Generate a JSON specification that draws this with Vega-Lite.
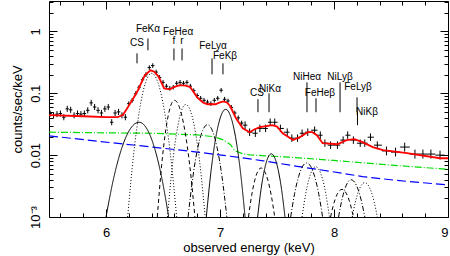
{
"$schema":"https://vega.github.io/schema/vega-lite/v6.json",
"autosize":"none","width":399,"height":216,
"padding":{"left":49,"top":1,"right":2,"bottom":39},
"background":"white",
"config":{"view":{"stroke":"black","strokeWidth":1},
"axis":{"domain":false,"grid":false,"tickColor":"black","tickWidth":1,"labelColor":"black","labelFont":"Liberation Sans","labelFontSize":13,"titleFont":"Liberation Sans","titleFontSize":13,"titleFontWeight":"normal","titleColor":"black"}},
"datasets":{
"pts":[
{"e":5.51,"e1":5.495,"e2":5.525,"c":0.047,"c1":0.042,"c2":0.0526},
{"e":5.54,"e1":5.525,"e2":5.555,"c":0.044,"c1":0.0393,"c2":0.0493},
{"e":5.57,"e1":5.555,"e2":5.585,"c":0.046,"c1":0.0411,"c2":0.0515},
{"e":5.60,"e1":5.585,"e2":5.615,"c":0.047,"c1":0.042,"c2":0.0526},
{"e":5.63,"e1":5.615,"e2":5.645,"c":0.041,"c1":0.0366,"c2":0.0459},
{"e":5.66,"e1":5.645,"e2":5.675,"c":0.056,"c1":0.05,"c2":0.0627},
{"e":5.69,"e1":5.675,"e2":5.705,"c":0.054,"c1":0.0482,"c2":0.0605},
{"e":5.72,"e1":5.705,"e2":5.735,"c":0.044,"c1":0.0393,"c2":0.0493},
{"e":5.75,"e1":5.735,"e2":5.765,"c":0.047,"c1":0.042,"c2":0.0526},
{"e":5.78,"e1":5.765,"e2":5.795,"c":0.046,"c1":0.0411,"c2":0.0515},
{"e":5.81,"e1":5.795,"e2":5.825,"c":0.047,"c1":0.042,"c2":0.0526},
{"e":5.84,"e1":5.825,"e2":5.855,"c":0.053,"c1":0.0473,"c2":0.0594},
{"e":5.87,"e1":5.855,"e2":5.885,"c":0.070,"c1":0.0625,"c2":0.0784},
{"e":5.90,"e1":5.885,"e2":5.915,"c":0.060,"c1":0.0536,"c2":0.0672},
{"e":5.93,"e1":5.915,"e2":5.945,"c":0.053,"c1":0.0473,"c2":0.0594},
{"e":5.96,"e1":5.945,"e2":5.975,"c":0.048,"c1":0.0429,"c2":0.0538},
{"e":5.99,"e1":5.975,"e2":6.005,"c":0.056,"c1":0.05,"c2":0.0627},
{"e":6.02,"e1":6.005,"e2":6.035,"c":0.060,"c1":0.0536,"c2":0.0672},
{"e":6.05,"e1":6.035,"e2":6.065,"c":0.034,"c1":0.0304,"c2":0.0381},
{"e":6.08,"e1":6.065,"e2":6.095,"c":0.048,"c1":0.0429,"c2":0.0538},
{"e":6.11,"e1":6.095,"e2":6.125,"c":0.050,"c1":0.0446,"c2":0.056},
{"e":6.14,"e1":6.125,"e2":6.155,"c":0.044,"c1":0.0393,"c2":0.0493},
{"e":6.17,"e1":6.155,"e2":6.185,"c":0.041,"c1":0.0366,"c2":0.0459},
{"e":6.20,"e1":6.185,"e2":6.215,"c":0.068,"c1":0.0624,"c2":0.0741},
{"e":6.23,"e1":6.215,"e2":6.245,"c":0.077,"c1":0.0706,"c2":0.0839},
{"e":6.26,"e1":6.245,"e2":6.275,"c":0.098,"c1":0.0899,"c2":0.107},
{"e":6.29,"e1":6.275,"e2":6.305,"c":0.125,"c1":0.115,"c2":0.136},
{"e":6.32,"e1":6.305,"e2":6.335,"c":0.165,"c1":0.151,"c2":0.18},
{"e":6.35,"e1":6.335,"e2":6.365,"c":0.20,"c1":0.183,"c2":0.218},
{"e":6.38,"e1":6.365,"e2":6.395,"c":0.26,"c1":0.238,"c2":0.283},
{"e":6.41,"e1":6.395,"e2":6.425,"c":0.28,"c1":0.257,"c2":0.305},
{"e":6.44,"e1":6.425,"e2":6.455,"c":0.22,"c1":0.202,"c2":0.24},
{"e":6.47,"e1":6.455,"e2":6.485,"c":0.18,"c1":0.165,"c2":0.196},
{"e":6.50,"e1":6.485,"e2":6.515,"c":0.15,"c1":0.138,"c2":0.164},
{"e":6.53,"e1":6.515,"e2":6.545,"c":0.13,"c1":0.119,"c2":0.142},
{"e":6.56,"e1":6.545,"e2":6.575,"c":0.12,"c1":0.11,"c2":0.131},
{"e":6.59,"e1":6.575,"e2":6.605,"c":0.125,"c1":0.115,"c2":0.136},
{"e":6.62,"e1":6.605,"e2":6.635,"c":0.145,"c1":0.133,"c2":0.158},
{"e":6.65,"e1":6.635,"e2":6.665,"c":0.15,"c1":0.138,"c2":0.164},
{"e":6.68,"e1":6.665,"e2":6.695,"c":0.145,"c1":0.133,"c2":0.158},
{"e":6.71,"e1":6.695,"e2":6.725,"c":0.15,"c1":0.138,"c2":0.164},
{"e":6.74,"e1":6.725,"e2":6.755,"c":0.13,"c1":0.119,"c2":0.142},
{"e":6.77,"e1":6.755,"e2":6.785,"c":0.11,"c1":0.101,"c2":0.12},
{"e":6.80,"e1":6.785,"e2":6.815,"c":0.092,"c1":0.0844,"c2":0.1},
{"e":6.83,"e1":6.815,"e2":6.845,"c":0.083,"c1":0.0761,"c2":0.0905},
{"e":6.86,"e1":6.845,"e2":6.875,"c":0.077,"c1":0.0706,"c2":0.0839},
{"e":6.89,"e1":6.875,"e2":6.905,"c":0.072,"c1":0.066,"c2":0.0785},
{"e":6.92,"e1":6.905,"e2":6.935,"c":0.068,"c1":0.0624,"c2":0.0741},
{"e":6.95,"e1":6.935,"e2":6.965,"c":0.077,"c1":0.0706,"c2":0.0839},
{"e":6.98,"e1":6.965,"e2":6.995,"c":0.083,"c1":0.0761,"c2":0.0905},
{"e":7.01,"e1":6.995,"e2":7.025,"c":0.112,"c1":0.103,"c2":0.122},
{"e":7.04,"e1":7.025,"e2":7.055,"c":0.080,"c1":0.0734,"c2":0.0872},
{"e":7.07,"e1":7.055,"e2":7.085,"c":0.075,"c1":0.0688,"c2":0.0818},
{"e":7.10,"e1":7.085,"e2":7.115,"c":0.059,"c1":0.0541,"c2":0.0643},
{"e":7.13,"e1":7.115,"e2":7.145,"c":0.048,"c1":0.044,"c2":0.0523},
{"e":7.16,"e1":7.145,"e2":7.175,"c":0.040,"c1":0.0367,"c2":0.0436},
{"e":7.19,"e1":7.175,"e2":7.205,"c":0.033,"c1":0.0303,"c2":0.036},
{"e":7.22,"e1":7.2,"e2":7.24,"c":0.0305,"c1":0.0265,"c2":0.0351},
{"e":7.26,"e1":7.24,"e2":7.285,"c":0.0235,"c1":0.0204,"c2":0.027},
{"e":7.31,"e1":7.285,"e2":7.33,"c":0.0226,"c1":0.0197,"c2":0.026},
{"e":7.35,"e1":7.33,"e2":7.375,"c":0.027,"c1":0.0235,"c2":0.0311},
{"e":7.40,"e1":7.375,"e2":7.42,"c":0.027,"c1":0.0235,"c2":0.0311},
{"e":7.44,"e1":7.42,"e2":7.46,"c":0.034,"c1":0.0296,"c2":0.0391},
{"e":7.48,"e1":7.46,"e2":7.505,"c":0.034,"c1":0.0296,"c2":0.0391},
{"e":7.53,"e1":7.505,"e2":7.56,"c":0.027,"c1":0.0235,"c2":0.0311},
{"e":7.59,"e1":7.56,"e2":7.61,"c":0.0235,"c1":0.0204,"c2":0.027},
{"e":7.63,"e1":7.61,"e2":7.655,"c":0.0188,"c1":0.0164,"c2":0.0216},
{"e":7.68,"e1":7.655,"e2":7.70,"c":0.0188,"c1":0.0164,"c2":0.0216},
{"e":7.72,"e1":7.70,"e2":7.745,"c":0.0226,"c1":0.0197,"c2":0.026},
{"e":7.77,"e1":7.745,"e2":7.80,"c":0.0235,"c1":0.0204,"c2":0.027},
{"e":7.83,"e1":7.80,"e2":7.855,"c":0.0253,"c1":0.022,"c2":0.0291},
{"e":7.88,"e1":7.855,"e2":7.90,"c":0.021,"c1":0.0183,"c2":0.0242},
{"e":7.92,"e1":7.90,"e2":7.945,"c":0.0156,"c1":0.0136,"c2":0.0179},
{"e":7.97,"e1":7.945,"e2":8.0,"c":0.0145,"c1":0.0126,"c2":0.0167},
{"e":8.03,"e1":8.0,"e2":8.055,"c":0.0145,"c1":0.0126,"c2":0.0167},
{"e":8.08,"e1":8.055,"e2":8.10,"c":0.0175,"c1":0.0152,"c2":0.0201},
{"e":8.12,"e1":8.10,"e2":8.145,"c":0.021,"c1":0.0183,"c2":0.0242},
{"e":8.17,"e1":8.145,"e2":8.20,"c":0.0175,"c1":0.0152,"c2":0.0201},
{"e":8.23,"e1":8.20,"e2":8.25,"c":0.0156,"c1":0.0136,"c2":0.0179},
{"e":8.27,"e1":8.25,"e2":8.295,"c":0.0156,"c1":0.0136,"c2":0.0179},
{"e":8.32,"e1":8.295,"e2":8.35,"c":0.0195,"c1":0.017,"c2":0.0224},
{"e":8.38,"e1":8.35,"e2":8.42,"c":0.0145,"c1":0.0126,"c2":0.0167},
{"e":8.46,"e1":8.42,"e2":8.50,"c":0.0117,"c1":0.0099,"c2":0.0138},
{"e":8.54,"e1":8.50,"e2":8.58,"c":0.0112,"c1":0.0095,"c2":0.0132},
{"e":8.62,"e1":8.58,"e2":8.665,"c":0.0135,"c1":0.0114,"c2":0.0159},
{"e":8.71,"e1":8.665,"e2":8.745,"c":0.0104,"c1":0.0088,"c2":0.0123},
{"e":8.78,"e1":8.745,"e2":8.815,"c":0.0104,"c1":0.0088,"c2":0.0123},
{"e":8.85,"e1":8.815,"e2":8.89,"c":0.0104,"c1":0.0088,"c2":0.0123},
{"e":8.93,"e1":8.89,"e2":8.97,"c":0.0100,"c1":0.0085,"c2":0.0118}
],
"red":[
{"e":5.5,"v":0.0442},{"e":5.8,"v":0.0425},{"e":6.0,"v":0.041},{"e":6.1,"v":0.041},{"e":6.15,"v":0.045},{"e":6.19,"v":0.059},{"e":6.24,"v":0.083},{"e":6.28,"v":0.112},{"e":6.34,"v":0.195},{"e":6.39,"v":0.235},{"e":6.42,"v":0.225},{"e":6.46,"v":0.188},{"e":6.51,"v":0.12},{"e":6.56,"v":0.116},{"e":6.6,"v":0.127},{"e":6.65,"v":0.135},{"e":6.7,"v":0.133},{"e":6.74,"v":0.125},{"e":6.8,"v":0.086},{"e":6.85,"v":0.071},{"e":6.89,"v":0.0665},{"e":6.96,"v":0.0665},{"e":7.0,"v":0.071},{"e":7.03,"v":0.074},{"e":7.06,"v":0.071},{"e":7.09,"v":0.0617},{"e":7.14,"v":0.0395},{"e":7.2,"v":0.0272},{"e":7.26,"v":0.0235},{"e":7.3,"v":0.026},{"e":7.35,"v":0.0283},{"e":7.46,"v":0.0305},{"e":7.5,"v":0.029},{"e":7.55,"v":0.0226},{"e":7.64,"v":0.0175},{"e":7.7,"v":0.0195},{"e":7.77,"v":0.0235},{"e":7.81,"v":0.0235},{"e":7.85,"v":0.021},{"e":7.9,"v":0.0156},{"e":8.03,"v":0.015},{"e":8.11,"v":0.0175},{"e":8.18,"v":0.0181},{"e":8.25,"v":0.0162},{"e":8.34,"v":0.0135},{"e":8.43,"v":0.012},{"e":8.64,"v":0.0108},{"e":8.93,"v":0.0089},{"e":9.0,"v":0.0089}
],
"green":[
{"e":5.5,"v":0.0235},{"e":6.0,"v":0.0229},{"e":6.4,"v":0.0226},{"e":6.8,"v":0.0212},{"e":6.95,"v":0.0198},{"e":7.03,"v":0.0176},{"e":7.09,"v":0.0149},{"e":7.13,"v":0.0118},{"e":7.2,"v":0.0105},{"e":7.26,"v":0.0101},{"e":7.6,"v":0.0093},{"e":8.0,"v":0.0082},{"e":8.5,"v":0.0069},{"e":9.0,"v":0.0059}
],
"blue":[
{"e":5.5,"v":0.0205},{"e":5.95,"v":0.0166},{"e":6.39,"v":0.0136},{"e":6.8,"v":0.0112},{"e":7.09,"v":0.0096},{"e":7.38,"v":0.0081},{"e":7.675,"v":0.0066},{"e":7.96,"v":0.0055},{"e":8.25,"v":0.0045},{"e":8.55,"v":0.0039},{"e":9.0,"v":0.0033}
],
"comp":[
{"n":"CS1","s":"solid","e":6.0,"v":0.001},{"n":"CS1","s":"solid","e":6.0725,"v":0.00468},{"n":"CS1","s":"solid","e":6.145,"v":0.0141},{"n":"CS1","s":"solid","e":6.2175,"v":0.0273},{"n":"CS1","s":"solid","e":6.29,"v":0.034},{"n":"CS1","s":"solid","e":6.355,"v":0.0273},{"n":"CS1","s":"solid","e":6.42,"v":0.0141},{"n":"CS1","s":"solid","e":6.485,"v":0.00468},{"n":"CS1","s":"solid","e":6.55,"v":0.001},
{"n":"FeKa","s":"dot","e":6.19,"v":0.001},{"n":"FeKa","s":"dot","e":6.2425,"v":0.0104},{"n":"FeKa","s":"dot","e":6.295,"v":0.0552},{"n":"FeKa","s":"dot","e":6.3475,"v":0.15},{"n":"FeKa","s":"dot","e":6.4,"v":0.21},{"n":"FeKa","s":"dot","e":6.455,"v":0.15},{"n":"FeKa","s":"dot","e":6.51,"v":0.0552},{"n":"FeKa","s":"dot","e":6.565,"v":0.0104},{"n":"FeKa","s":"dot","e":6.62,"v":0.001},
{"n":"f","s":"dash","e":6.45,"v":0.001},{"n":"f","s":"dash","e":6.4875,"v":0.0067},{"n":"f","s":"dash","e":6.525,"v":0.026},{"n":"f","s":"dash","e":6.5625,"v":0.0587},{"n":"f","s":"dash","e":6.6,"v":0.077},{"n":"f","s":"dash","e":6.645,"v":0.0587},{"n":"f","s":"dash","e":6.69,"v":0.026},{"n":"f","s":"dash","e":6.735,"v":0.0067},{"n":"f","s":"dash","e":6.78,"v":0.001},
{"n":"r","s":"dot","e":6.54,"v":0.001},{"n":"r","s":"dot","e":6.58,"v":0.00625},{"n":"r","s":"dot","e":6.62,"v":0.0232},{"n":"r","s":"dot","e":6.66,"v":0.0508},{"n":"r","s":"dot","e":6.7,"v":0.066},{"n":"r","s":"dot","e":6.7425,"v":0.0508},{"n":"r","s":"dot","e":6.785,"v":0.0232},{"n":"r","s":"dot","e":6.8275,"v":0.00625},{"n":"r","s":"dot","e":6.87,"v":0.001},
{"n":"FeLya","s":"dashdot","e":6.72,"v":0.001},{"n":"FeLya","s":"dashdot","e":6.7625,"v":0.00449},{"n":"FeLya","s":"dashdot","e":6.805,"v":0.0131},{"n":"FeLya","s":"dashdot","e":6.8475,"v":0.025},{"n":"FeLya","s":"dashdot","e":6.89,"v":0.031},{"n":"FeLya","s":"dashdot","e":6.9325,"v":0.025},{"n":"FeLya","s":"dashdot","e":6.975,"v":0.0131},{"n":"FeLya","s":"dashdot","e":7.0175,"v":0.00449},{"n":"FeLya","s":"dashdot","e":7.06,"v":0.001},
{"n":"FeKb","s":"solid","e":6.88,"v":0.001},{"n":"FeKb","s":"solid","e":6.9225,"v":0.00577},{"n":"FeKb","s":"solid","e":6.965,"v":0.0202},{"n":"FeKb","s":"solid","e":7.0075,"v":0.0428},{"n":"FeKb","s":"solid","e":7.05,"v":0.055},{"n":"FeKb","s":"solid","e":7.0925,"v":0.0428},{"n":"FeKb","s":"solid","e":7.135,"v":0.0202},{"n":"FeKb","s":"solid","e":7.1775,"v":0.00577},{"n":"FeKb","s":"solid","e":7.22,"v":0.001},
{"n":"CS2","s":"dash","e":7.25,"v":0.001},{"n":"CS2","s":"dash","e":7.2775,"v":0.00222},{"n":"CS2","s":"dash","e":7.305,"v":0.00393},{"n":"CS2","s":"dash","e":7.3325,"v":0.00552},{"n":"CS2","s":"dash","e":7.36,"v":0.0062},{"n":"CS2","s":"dash","e":7.39,"v":0.00552},{"n":"CS2","s":"dash","e":7.42,"v":0.00393},{"n":"CS2","s":"dash","e":7.45,"v":0.00222},{"n":"CS2","s":"dash","e":7.48,"v":0.001},
{"n":"NiKa","s":"solid","e":7.33,"v":0.001},{"n":"NiKa","s":"solid","e":7.36,"v":0.0028},{"n":"NiKa","s":"solid","e":7.39,"v":0.00583},{"n":"NiKa","s":"solid","e":7.42,"v":0.00906},{"n":"NiKa","s":"solid","e":7.45,"v":0.0105},{"n":"NiKa","s":"solid","e":7.48,"v":0.00906},{"n":"NiKa","s":"solid","e":7.51,"v":0.00583},{"n":"NiKa","s":"solid","e":7.54,"v":0.0028},{"n":"NiKa","s":"solid","e":7.57,"v":0.001},
{"n":"NiHea","s":"dashdot","e":7.62,"v":0.001},{"n":"NiHea","s":"dashdot","e":7.655,"v":0.00242},{"n":"NiHea","s":"dashdot","e":7.69,"v":0.00453},{"n":"NiHea","s":"dashdot","e":7.725,"v":0.00661},{"n":"NiHea","s":"dashdot","e":7.76,"v":0.0075},{"n":"NiHea","s":"dashdot","e":7.795,"v":0.00661},{"n":"NiHea","s":"dashdot","e":7.83,"v":0.00453},{"n":"NiHea","s":"dashdot","e":7.865,"v":0.00242},{"n":"NiHea","s":"dashdot","e":7.9,"v":0.001},
{"n":"FeHeb","s":"dot","e":7.72,"v":0.001},{"n":"FeHeb","s":"dot","e":7.75,"v":0.00227},{"n":"FeHeb","s":"dot","e":7.78,"v":0.00407},{"n":"FeHeb","s":"dot","e":7.81,"v":0.00578},{"n":"FeHeb","s":"dot","e":7.84,"v":0.0065},{"n":"FeHeb","s":"dot","e":7.87,"v":0.00578},{"n":"FeHeb","s":"dot","e":7.9,"v":0.00407},{"n":"FeHeb","s":"dot","e":7.93,"v":0.00227},{"n":"FeHeb","s":"dot","e":7.96,"v":0.001},
{"n":"NiLyb","s":"dash","e":7.97,"v":0.001},{"n":"NiLyb","s":"dash","e":7.995,"v":0.00157},{"n":"NiLyb","s":"dash","e":8.02,"v":0.00216},{"n":"NiLyb","s":"dash","e":8.045,"v":0.00262},{"n":"NiLyb","s":"dash","e":8.07,"v":0.0028},{"n":"NiLyb","s":"dash","e":8.095,"v":0.00262},{"n":"NiLyb","s":"dash","e":8.12,"v":0.00216},{"n":"NiLyb","s":"dash","e":8.145,"v":0.00157},{"n":"NiLyb","s":"dash","e":8.17,"v":0.001},
{"n":"FeLyb","s":"dashdot","e":8.04,"v":0.001},{"n":"FeLyb","s":"dashdot","e":8.0675,"v":0.00183},{"n":"FeLyb","s":"dashdot","e":8.095,"v":0.00283},{"n":"FeLyb","s":"dashdot","e":8.1225,"v":0.00367},{"n":"FeLyb","s":"dashdot","e":8.15,"v":0.004},{"n":"FeLyb","s":"dashdot","e":8.18,"v":0.00367},{"n":"FeLyb","s":"dashdot","e":8.21,"v":0.00283},{"n":"FeLyb","s":"dashdot","e":8.24,"v":0.00183},{"n":"FeLyb","s":"dashdot","e":8.27,"v":0.001},
{"n":"NiKb","s":"dot","e":8.16,"v":0.001},{"n":"NiKb","s":"dot","e":8.1875,"v":0.00175},{"n":"NiKb","s":"dot","e":8.215,"v":0.00261},{"n":"NiKb","s":"dot","e":8.2425,"v":0.00332},{"n":"NiKb","s":"dot","e":8.27,"v":0.0036},{"n":"NiKb","s":"dot","e":8.2975,"v":0.00332},{"n":"NiKb","s":"dot","e":8.325,"v":0.00261},{"n":"NiKb","s":"dot","e":8.3525,"v":0.00175},{"n":"NiKb","s":"dot","e":8.38,"v":0.001}
],
"mk":[
{"e":6.272,"y1":0.305,"y2":0.442},{"e":6.368,"y1":0.494,"y2":0.77},{"e":6.596,"y1":0.34,"y2":0.53},{"e":6.667,"y1":0.34,"y2":0.53},{"e":6.93,"y1":0.202,"y2":0.367},{"e":7.026,"y1":0.202,"y2":0.305},{"e":7.333,"y1":0.0494,"y2":0.08},{"e":7.43,"y1":0.0494,"y2":0.1},{"e":7.763,"y1":0.0494,"y2":0.15},{"e":7.842,"y1":0.0494,"y2":0.083},{"e":8.053,"y1":0.0494,"y2":0.15},{"e":8.202,"y1":0.0494,"y2":0.086},{"e":8.206,"y1":0.0305,"y2":0.0494}
],
"lab":[
{"t":"CS","e":6.272,"v":0.64},{"t":"FeKα","e":6.368,"v":1.08},{"t":"FeHeα","e":6.632,"v":0.96},{"t":"f","e":6.596,"v":0.69},{"t":"r","e":6.667,"v":0.69},{"t":"FeLyα","e":6.939,"v":0.573},{"t":"FeKβ","e":7.044,"v":0.395},{"t":"CS","e":7.325,"v":0.1},{"t":"NiKα","e":7.439,"v":0.116},{"t":"NiHeα","e":7.763,"v":0.181},{"t":"FeHeβ","e":7.877,"v":0.1},{"t":"NiLyβ","e":8.053,"v":0.181},{"t":"FeLyβ","e":8.211,"v":0.125},{"t":"NiKβ","e":8.29,"v":0.0494}
]
},
"resolve":{"axis":{"x":"independent","y":"independent"}},
"layer":[
{"data":{"name":"green"},"mark":{"type":"line","color":"#00dd00","strokeWidth":1.2,"strokeDash":[7,2,1,2],"clip":true},
"encoding":{
"x":{"field":"e","type":"quantitative","scale":{"domain":[5.5,9],"nice":false,"zero":false},"axis":{"orient":"bottom","values":[6,7,8,9],"tickSize":-8,"labelPadding":17,"title":"observed energy (keV)","titlePadding":2}},
"y":{"field":"v","type":"quantitative","scale":{"type":"log","domain":[0.001,3.1],"nice":false},"axis":{"orient":"left","values":[0.001,0.01,0.1,1],"tickSize":-8,"labelAngle":-90,"labelPadding":15,"labelExpr":"datum.value < 0.005 ? '10⁻³' : datum.value < 0.05 ? '0.01' : datum.value < 0.5 ? '0.1' : '1'","title":"counts/sec/keV","titlePadding":5}}}},
{"data":{"name":"blue"},"mark":{"type":"line","color":"#0000ff","strokeWidth":1.2,"strokeDash":[9,4],"clip":true},
"encoding":{
"x":{"field":"e","type":"quantitative","axis":{"orient":"bottom","values":[5.6,5.8,6.2,6.4,6.6,6.8,7.2,7.4,7.6,7.8,8.2,8.4,8.6,8.8],"tickSize":-4,"labels":false,"title":null}},
"y":{"field":"v","type":"quantitative","axis":{"orient":"left","values":[0.002,0.003,0.004,0.005,0.006,0.007,0.008,0.009,0.02,0.03,0.04,0.05,0.06,0.07,0.08,0.09,0.2,0.3,0.4,0.5,0.6,0.7,0.8,0.9,2,3],"tickSize":-4,"labels":false,"title":null}}}},
{"data":{"name":"comp"},"mark":{"type":"line","color":"black","strokeWidth":1,"clip":true,"interpolate":"monotone"},
"encoding":{
"x":{"field":"e","type":"quantitative","axis":{"orient":"top","values":[5.6,5.8,6.2,6.4,6.6,6.8,7.2,7.4,7.6,7.8,8.2,8.4,8.6,8.8],"tickSize":-4,"labels":false,"title":null}},
"y":{"field":"v","type":"quantitative","axis":{"orient":"right","values":[0.002,0.003,0.004,0.005,0.006,0.007,0.008,0.009,0.02,0.03,0.04,0.05,0.06,0.07,0.08,0.09,0.2,0.3,0.4,0.5,0.6,0.7,0.8,0.9,2,3],"tickSize":-4,"labels":false,"title":null}},
"detail":{"field":"n"},
"strokeDash":{"field":"s","type":"nominal","scale":{"domain":["solid","dot","dash","dashdot"],"range":[[1,0],[1,2],[4,3],[5,2,1,2]]},"legend":null}}},
{"data":{"name":"pts"},"mark":{"type":"rule","color":"black","strokeWidth":1,"clip":true},
"encoding":{"x":{"field":"e1","type":"quantitative","axis":null},"x2":{"field":"e2"},"y":{"field":"c","type":"quantitative","axis":null}}},
{"data":{"name":"pts"},"mark":{"type":"rule","color":"black","strokeWidth":1,"clip":true},
"encoding":{"x":{"field":"e","type":"quantitative","axis":null},"y":{"field":"c1","type":"quantitative","axis":null},"y2":{"field":"c2"}}},
{"data":{"name":"red"},"mark":{"type":"line","color":"#ff0000","strokeWidth":1.8,"clip":true},
"encoding":{
"x":{"field":"e","type":"quantitative","axis":{"orient":"top","values":[6,7,8,9],"tickSize":-8,"labels":false,"title":null}},
"y":{"field":"v","type":"quantitative","axis":{"orient":"right","values":[0.001,0.01,0.1,1],"tickSize":-8,"labels":false,"title":null}}}},
{"data":{"name":"mk"},"mark":{"type":"rule","color":"black","strokeWidth":1},
"encoding":{"x":{"field":"e","type":"quantitative","axis":null},"y":{"field":"y1","type":"quantitative","axis":null},"y2":{"field":"y2"}}},
{"data":{"name":"lab"},"mark":{"type":"text","font":"Liberation Sans","fontSize":10,"color":"black","align":"center","baseline":"middle"},
"encoding":{"x":{"field":"e","type":"quantitative","axis":null},"y":{"field":"v","type":"quantitative","axis":null},"text":{"field":"t"}}}
]
}
